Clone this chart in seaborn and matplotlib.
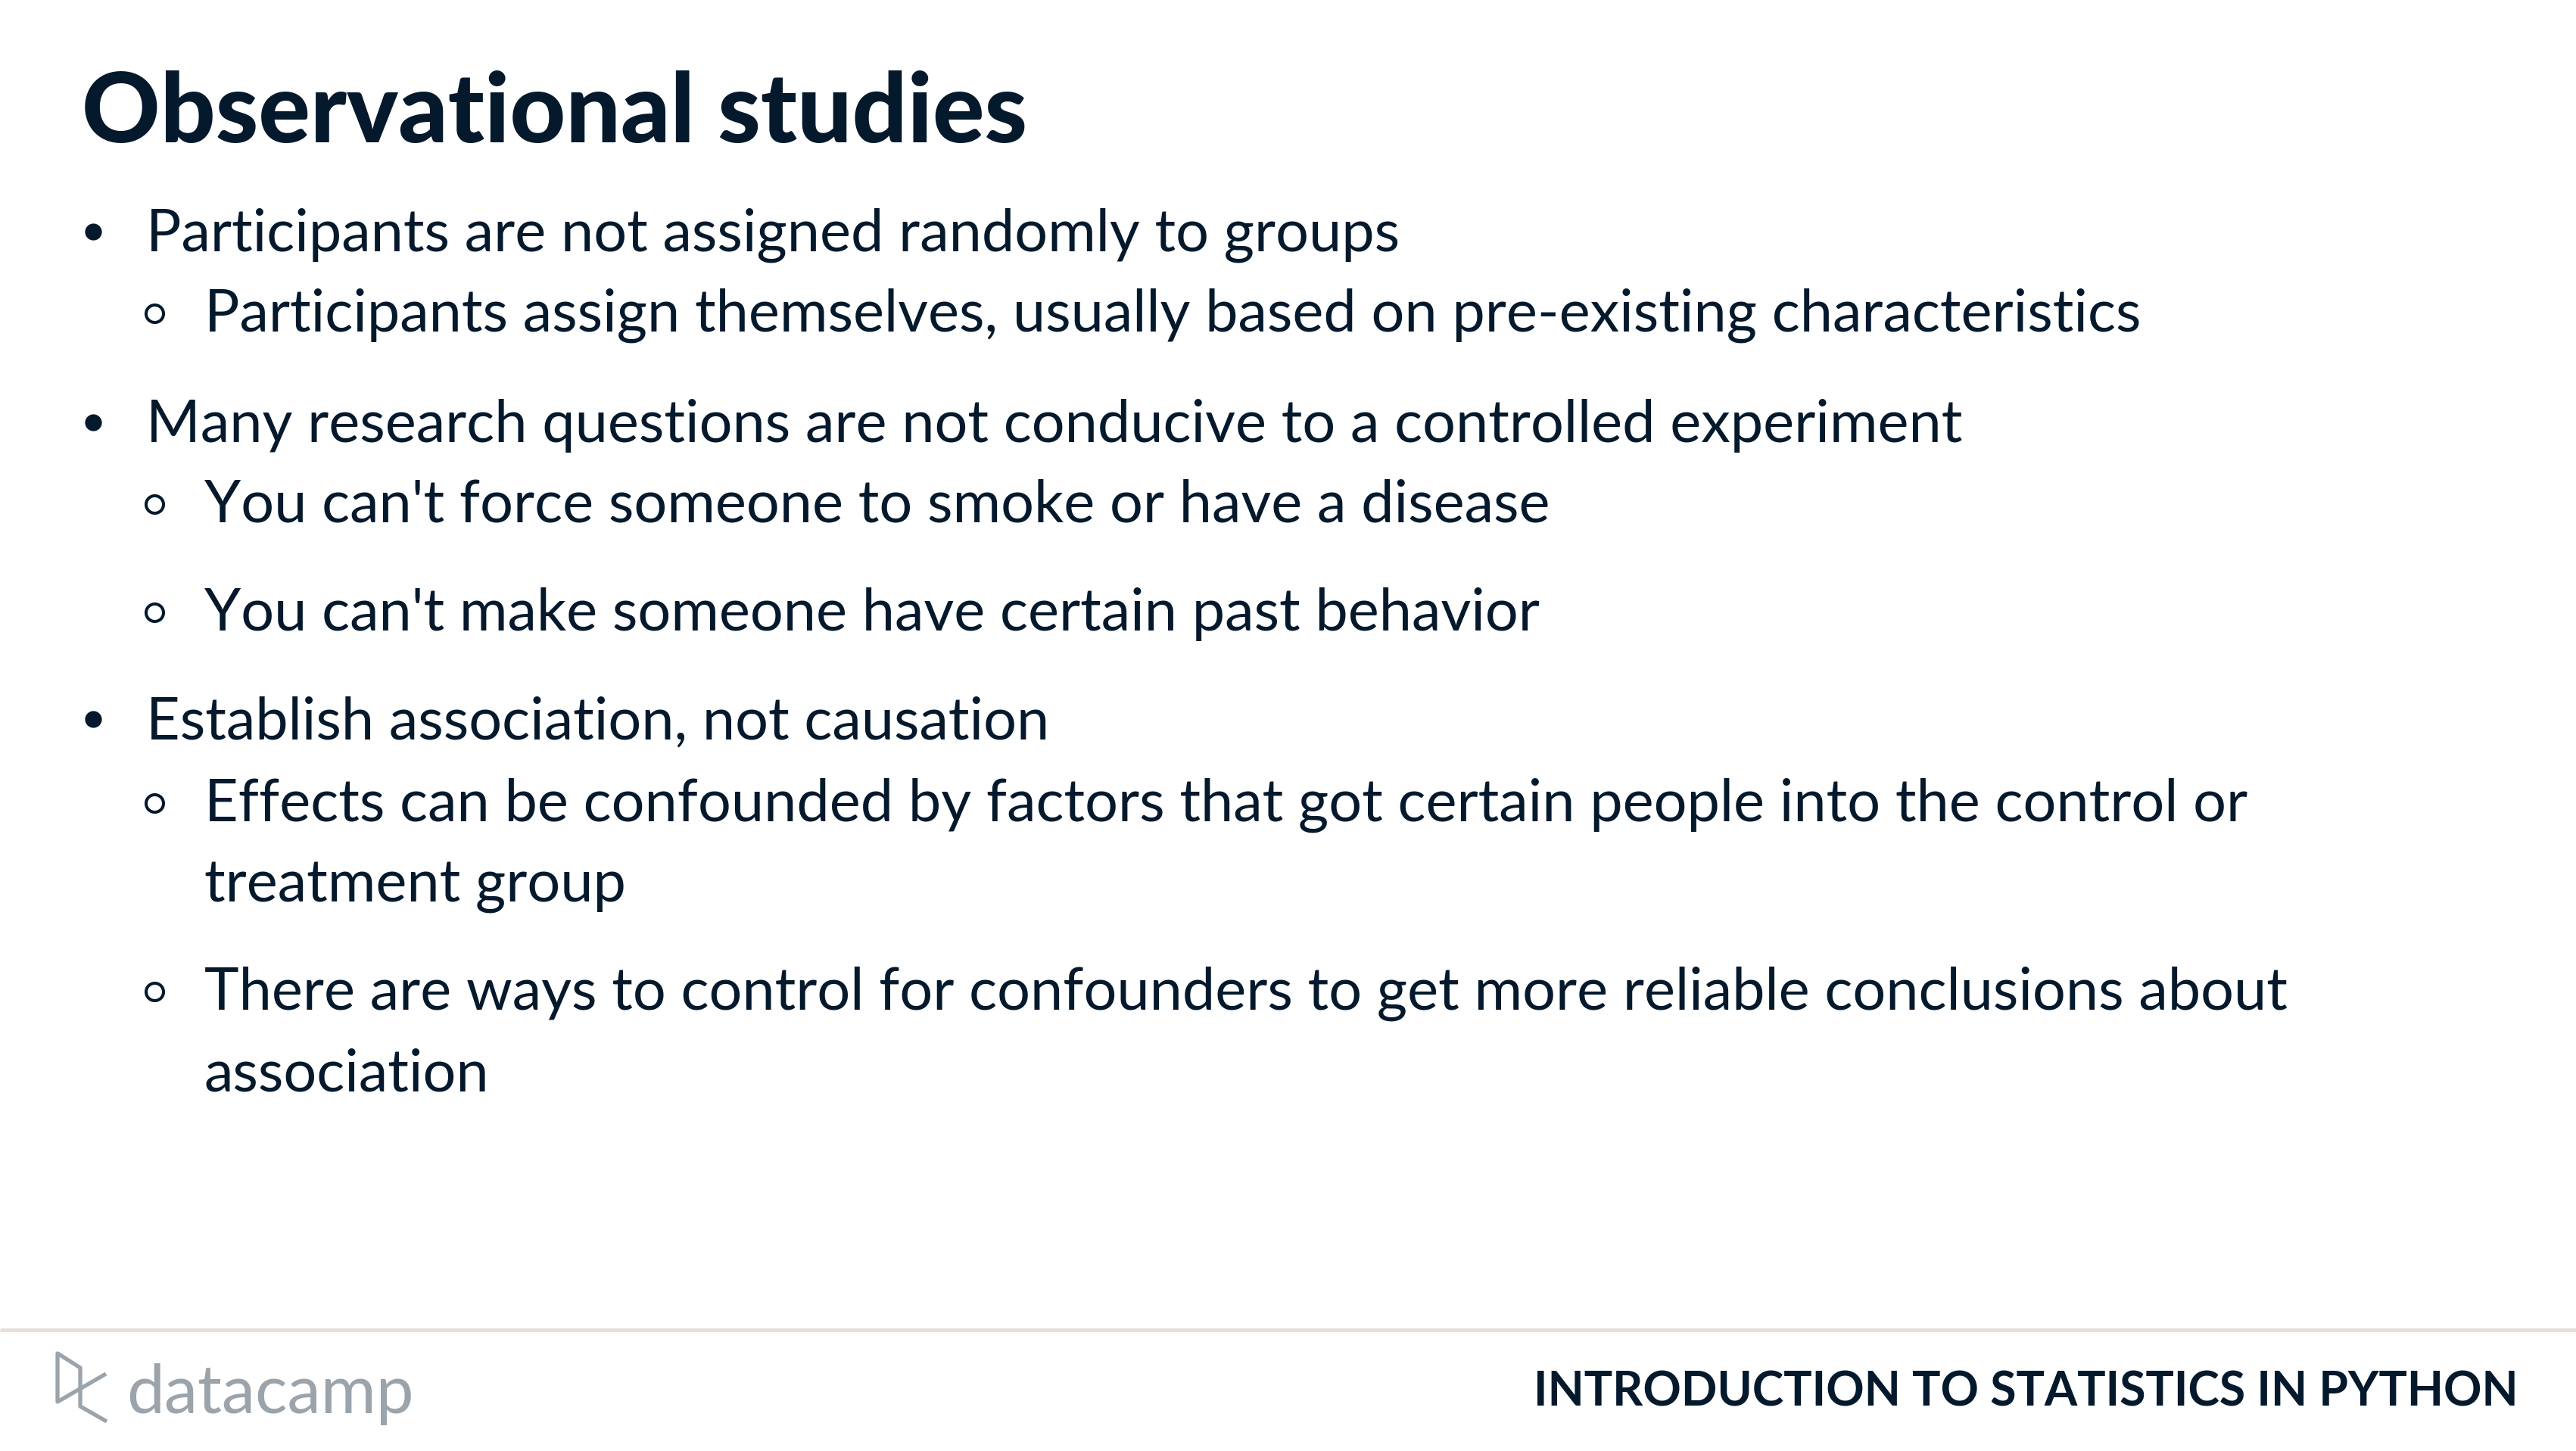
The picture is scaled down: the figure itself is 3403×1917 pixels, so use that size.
import matplotlib
matplotlib.use('Agg')
import matplotlib.pyplot as plt
import seaborn as sns

# textos de la diapositiva
TITLE = 'Observational studies'
ITEM_LINES = [
    ['Participants are not assigned randomly to groups'],
    ['Participants assign themselves, usually based on pre-existing characteristics'],
    ['Many research questions are not conducive to a controlled experiment'],
    ["You can't force someone to smoke or have a disease"],
    ["You can't make someone have certain past behavior"],
    ['Establish association, not causation'],
    ['Effects can be confounded by factors that got certain people into the control or',
     'treatment group'],
    ['There are ways to control for confounders to get more reliable conclusions about',
     'association'],
]
ITEM_LEVELS = [0, 1, 0, 1, 1, 0, 1, 1]
FOOTER = 'INTRODUCTION TO STATISTICS IN PYTHON'
BRAND = 'datacamp'

NAVY = '#05192D'
GREY = '#9BA3AB'
RULE = '#E5E1DA'
W, H = 3403, 1917

sns.set_theme(style='white')
plt.rcParams['font.family'] = ['Lato', 'DejaVu Sans']

fig = plt.figure(figsize=(W / 100, H / 100), dpi=100)
fig.patch.set_facecolor('white')
ax = fig.add_axes([0, 0, 1, 1])
ax.set_xlim(0, W)
ax.set_ylim(H, 0)
ax.axis('off')
renderer = fig.canvas.get_renderer()


def fit_size(text, target, weight='normal', base=50):
    t = fig.text(0, 0, text, fontsize=base, weight=weight)
    w = t.get_window_extent(renderer).width
    t.remove()
    return base * target / w


# tamaños ajustados al ancho de la referencia
title_size = fit_size(TITLE, 1250, weight='black')
body_size = fit_size(ITEM_LINES[0][0], 1656)
footer_size = fit_size(FOOTER, 1302, weight='bold')
brand_size = fit_size(BRAND, 380)

ax.text(108, 188, TITLE, fontsize=title_size, weight='black', color=NAVY,
        ha='left', va='baseline')

# líneas base de cada renglón
row_y = [332, 438, 584, 690, 833, 976, 1085, 1191, 1334, 1441]
text_x = {0: 193, 1: 270}
mark_x = {0: 123, 1: 204}
mark_dy = {0: 26, 1: 24}

row = 0
for lines, lvl in zip(ITEM_LINES, ITEM_LEVELS):
    y0 = row_y[row] - mark_dy[lvl]
    if lvl == 0:
        ax.plot([mark_x[lvl]], [y0], marker='o', ms=16, mfc=NAVY, mec=NAVY, mew=0)
    else:
        ax.plot([mark_x[lvl]], [y0], marker='o', ms=16.6, mfc='white', mec=NAVY, mew=2.9)
    for line in lines:
        ax.text(text_x[lvl], row_y[row], line, fontsize=body_size, color=NAVY,
                ha='left', va='baseline')
        row += 1

# pie de página
ax.plot([0, W], [1757, 1757], color=RULE, lw=3.6, solid_capstyle='butt')
ax.text(3327, 1858, FOOTER, fontsize=footer_size, weight='bold', color=NAVY,
        ha='right', va='baseline')

# logo
ax.plot([141, 106, 106, 76, 76, 140], [1878, 1858, 1807, 1788, 1852, 1815],
        color=GREY, lw=3.8, solid_joinstyle='round', solid_capstyle='butt')
ax.text(167, 1867, BRAND, fontsize=brand_size, color=GREY,
        ha='left', va='baseline')

fig.savefig('out.png', dpi=100, facecolor='white')
